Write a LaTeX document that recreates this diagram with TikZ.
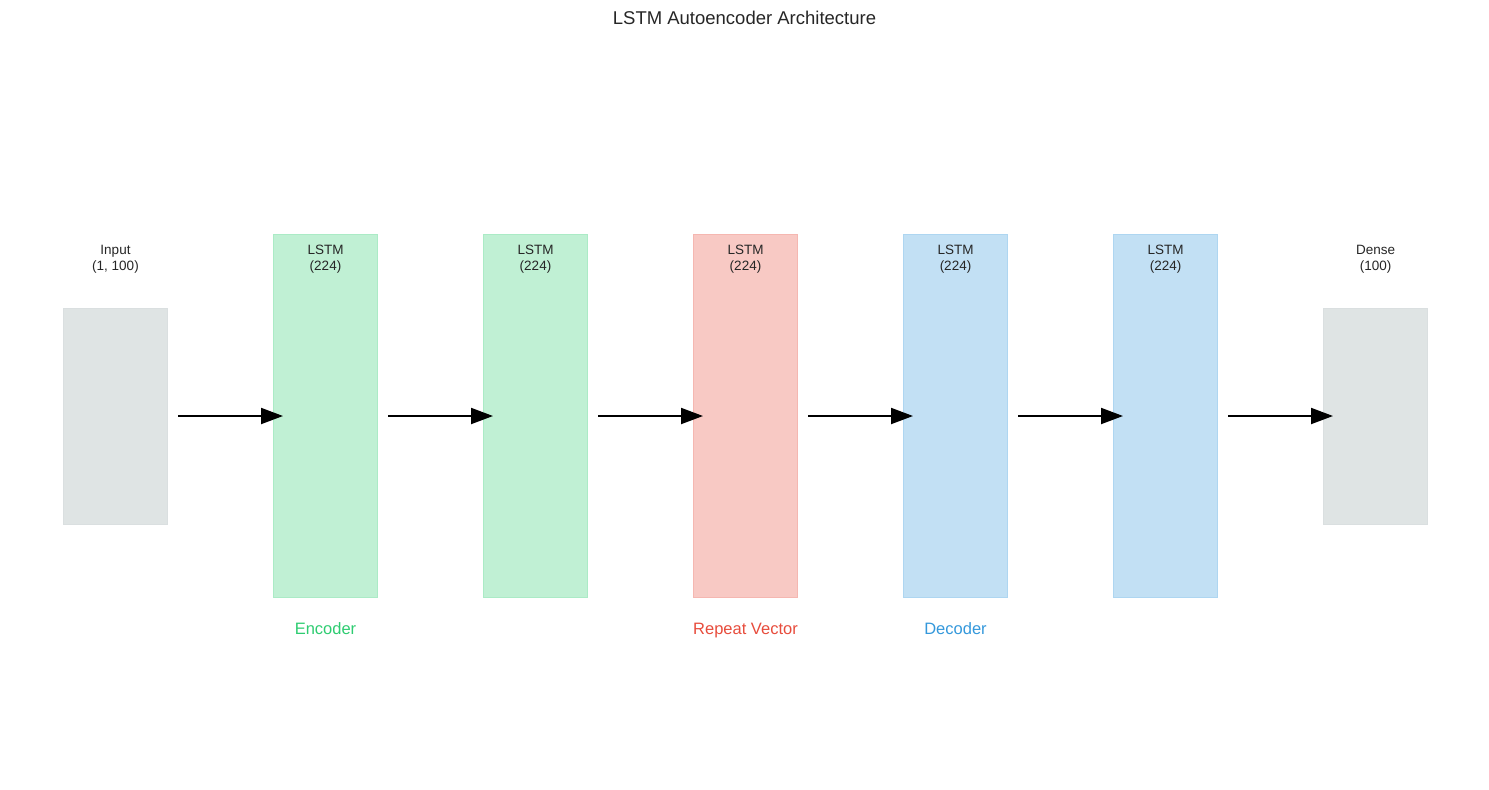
\documentclass[tikz,border=0pt]{standalone}
\usepackage{fontspec}
\setmainfont{Liberation Sans}
\usepackage{xcolor}
\definecolor{aegreen}{HTML}{2ECC71}
\definecolor{aered}{HTML}{E74C3C}
\definecolor{aeblue}{HTML}{3498DB}
\definecolor{aegray}{HTML}{95A5A6}
\definecolor{aetext}{HTML}{262626}
\usetikzlibrary{arrows.meta, positioning}

\tikzset{
  layer/.style={minimum width=104pt, inner sep=0pt, line width=1pt},
  tall/.style={layer, minimum height=363pt},
  short/.style={layer, minimum height=216pt},
  layerlabel/.style={font=\fontsize{13.5}{16}\selectfont, text=aetext, align=center},
  grouplabel/.style={font=\fontsize{16.5}{19}\selectfont, text height=12pt, text depth=3.5pt},
  flow/.style={-{Triangle[length=22pt, width=16pt]}, line width=2pt, black}
}

\begin{document}
\begin{tikzpicture}[x=1pt, y=-1pt]
  \useasboundingbox (0,0) rectangle (1489,790);

  % Title
  \node[font=\fontsize{18.5}{22}\selectfont, text=aetext] (title) at (744.5,18) {LSTM Autoencoder Architecture};

  % --- Layers ---
  \node[short, fill=aegray!30, draw=aegray!35] (inp) at (115.5,416) {};
  \node[tall, fill=aegreen!30, draw=aegreen!40] (enc1) at (325.5,416) {};
  \node[tall, fill=aegreen!30, draw=aegreen!40] (enc2) at (535.5,416) {};
  \node[tall, fill=aered!30, draw=aered!40] (rep) at (745.5,416) {};
  \node[tall, fill=aeblue!30, draw=aeblue!40] (dec1) at (955.5,416) {};
  \node[tall, fill=aeblue!30, draw=aeblue!40] (dec2) at (1165.5,416) {};
  \node[short, fill=aegray!30, draw=aegray!35] (dense) at (1375.5,416) {};

  % Layer labels
  \node[layerlabel] (inplbl) at (115.5,259) {Input\\(1, 100)};
  \node[layerlabel] (enc1lbl) at (325.5,259) {LSTM\\(224)};
  \node[layerlabel] (enc2lbl) at (535.5,259) {LSTM\\(224)};
  \node[layerlabel] (replbl) at (745.5,259) {LSTM\\(224)};
  \node[layerlabel] (dec1lbl) at (955.5,259) {LSTM\\(224)};
  \node[layerlabel] (dec2lbl) at (1165.5,259) {LSTM\\(224)};
  \node[layerlabel] (denselbl) at (1375.5,259) {Dense\\(100)};

  % Arrows between layers
  \draw[flow] ([xshift=10pt]inp.east) -- ([xshift=10pt]enc1.west);
  \draw[flow] ([xshift=10pt]enc1.east) -- ([xshift=10pt]enc2.west);
  \draw[flow] ([xshift=10pt]enc2.east) -- ([xshift=10pt]rep.west);
  \draw[flow] ([xshift=10pt]rep.east) -- ([xshift=10pt]dec1.west);
  \draw[flow] ([xshift=10pt]dec1.east) -- ([xshift=10pt]dec2.west);
  \draw[flow] ([xshift=10pt]dec2.east) -- ([xshift=10pt]dense.west);

  % Group labels
  \node[grouplabel, text=aegreen] (enclbl) at (325.5,630) {Encoder};
  \node[grouplabel, text=aered] (replbl2) at (745.5,630) {Repeat Vector};
  \node[grouplabel, text=aeblue] (declbl) at (955.5,630) {Decoder};
\end{tikzpicture}
\end{document}
